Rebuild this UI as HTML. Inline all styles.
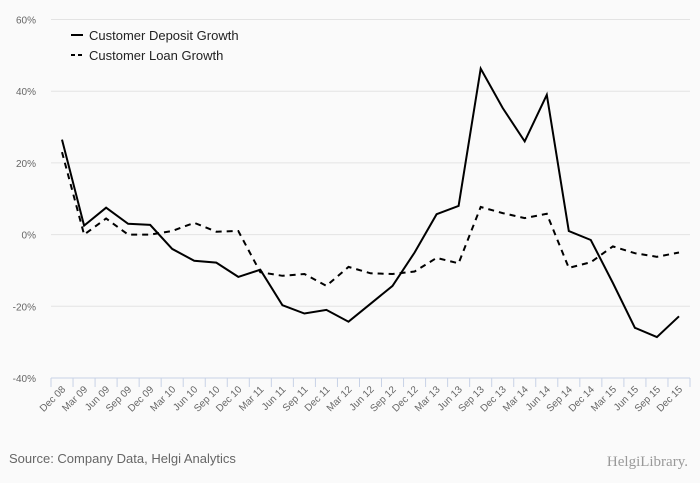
<!DOCTYPE html>
<html><head><meta charset="utf-8"><style>
body{margin:0;background:#fafafa;}
svg{display:block;font-family:"Liberation Sans",sans-serif;}
</style></head><body>
<svg id="chart" width="700" height="483" viewBox="0 0 700 483">
<rect width="700" height="483" fill="#fafafa"/>
<g id="grid"></g><g id="xaxis"></g><g id="lines"></g>
<g>
<line x1="71" y1="35" x2="83" y2="35" stroke="#000" stroke-width="2"/>
<text x="89" y="40" font-size="13" fill="#222">Customer Deposit Growth</text>
<line x1="71" y1="55" x2="83" y2="55" stroke="#000" stroke-width="2" stroke-dasharray="4,3"/>
<text x="89" y="60" font-size="13" fill="#222">Customer Loan Growth</text>
</g>
<text x="9" y="463" font-size="13" fill="#666">Source: Company Data, Helgi Analytics</text>
<text x="688" y="466" font-size="15" fill="#999" text-anchor="end" font-family="Liberation Serif,serif">HelgiLibrary.</text>
</svg>
<script>
const categories=["Dec 08","Mar 09","Jun 09","Sep 09","Dec 09","Mar 10","Jun 10","Sep 10","Dec 10","Mar 11","Jun 11","Sep 11","Dec 11","Mar 12","Jun 12","Sep 12","Dec 12","Mar 13","Jun 13","Sep 13","Dec 13","Mar 14","Jun 14","Sep 14","Dec 14","Mar 15","Jun 15","Sep 15","Dec 15"];
const depositGrowth=[26.5,2.5,7.5,3,2.7,-4,-7.3,-7.8,-11.8,-9.8,-19.7,-22,-21,-24.3,-19.3,-14.3,-5,5.7,8,46.3,35.3,26,39,1,-1.5,-13.5,-26,-28.6,-22.8];
const loanGrowth=[23,0,4.5,0,0,1,3.3,0.8,1,-10.5,-11.5,-11,-14.3,-9,-10.8,-11,-10.3,-6.5,-8,7.7,6,4.6,5.8,-9.3,-7.7,-3.3,-5.2,-6.2,-5];
const yTicks=[60,40,20,0,-20,-40];
const NS="http://www.w3.org/2000/svg";
const L=51,R=690,T=19.5,B=378,yMin=-40,yMax=60;
const bw=(R-L)/categories.length;
function x(i){return L+bw*(i+0.5);}
function y(v){return B-(v-yMin)/(yMax-yMin)*(B-T);}
function mk(tag,attrs,parent){const e=document.createElementNS(NS,tag);for(const k in attrs)e.setAttribute(k,attrs[k]);parent.appendChild(e);return e;}
const grid=document.getElementById('grid');
yTicks.forEach(v=>{
  if(v!==yMin){const g=mk('line',{x1:L,x2:R,y1:y(v),y2:y(v),stroke:'#e3e3e3','stroke-width':1},grid);
  
  }
  const t=mk('text',{x:36,y:y(v)+4,'font-size':10,fill:'#666','text-anchor':'end'},grid);
  t.textContent=v+'%';
  
  
});
const xa=document.getElementById('xaxis');
const ax=mk('line',{x1:L,x2:R,y1:B,y2:B,stroke:'#c8d2e6','stroke-width':1},xa);


for(let i=0;i<=categories.length;i++){
  const tk=mk('line',{x1:L+bw*i,x2:L+bw*i,y1:B,y2:B+9,stroke:'#c8d2e6'},xa);
  
  
}
categories.forEach((c,i)=>{
  const t=mk('text',{transform:`translate(${x(i)+4},${B+12}) rotate(-45)`,'font-size':10,fill:'#666','text-anchor':'end'},xa);
  t.textContent=c;
  
  
});
const lines=document.getElementById('lines');
function pts(a){return a.map((v,i)=>x(i).toFixed(1)+','+y(v).toFixed(1)).join(' ');}
const lp=mk('polyline',{points:pts(loanGrowth),fill:'none',stroke:'#000','stroke-width':2,'stroke-dasharray':'6,5'},lines);


const dp=mk('polyline',{points:pts(depositGrowth),fill:'none',stroke:'#000','stroke-width':2},lines);


</script>
</body></html>
